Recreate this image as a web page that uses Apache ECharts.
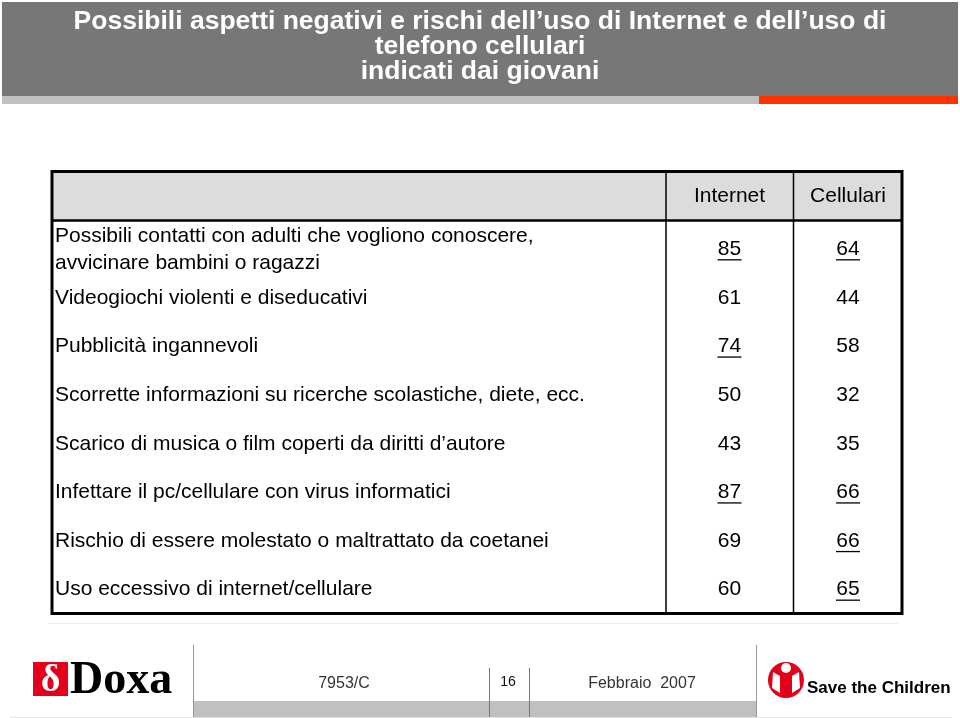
<!DOCTYPE html>
<html>
<head>
<meta charset="utf-8">
<script src="https://cdn.jsdelivr.net/npm/echarts@6/dist/echarts.min.js"></script>
<style>
html,body{margin:0;padding:0;background:#fff;}
#chart{width:960px;height:718px;}
</style>
</head>
<body>
<div id="chart"></div>
<script>
// ---- data ----
const titleLines = [
  "Possibili aspetti negativi e rischi dell\u2019uso di Internet e dell\u2019uso di",
  "telefono cellulari",
  "indicati dai giovani"
];
const rowLabels = [
  "Possibili contatti con adulti che vogliono conoscere,\navvicinare bambini o ragazzi",
  "Videogiochi violenti e diseducativi",
  "Pubblicit\u00e0 ingannevoli",
  "Scorrette informazioni su ricerche scolastiche, diete, ecc.",
  "Scarico di musica o film coperti da diritti d\u2019autore",
  "Infettare il pc/cellulare con virus informatici",
  "Rischio di essere molestato o maltrattato da coetanei",
  "Uso eccessivo di internet/cellulare"
];
const columns = ["Internet", "Cellulari"];
const internetValues = [85, 61, 74, 50, 43, 87, 69, 60];
const cellulariValues = [64, 44, 58, 32, 35, 66, 66, 65];
const internetUnderlined = [1, 0, 1, 0, 0, 1, 0, 0];
const cellulariUnderlined = [1, 0, 0, 0, 0, 1, 1, 1];
const footerCode = "7953/C";
const footerPage = "16";
const footerDate = "Febbraio  2007";

// ---- chart ----
const FONT = "'Liberation Sans', Arial, Helvetica, sans-serif";
const FS = 21;
const chart = echarts.init(document.getElementById('chart'), null, {renderer: 'canvas'});

function cellRenderer(params, api) {
  const p = api.coord([api.value(0), api.value(1)]);
  const children = [{
    type: 'text',
    style: {
      text: String(api.value(2)), x: p[0], y: p[1],
      align: 'center', verticalAlign: 'middle',
      fontSize: FS, fontFamily: FONT, fill: '#000'
    }
  }];
  if (api.value(3)) {
    children.push({
      type: 'line',
      shape: {x1: p[0] - 12, y1: p[1] + 10.5, x2: p[0] + 12, y2: p[1] + 10.5},
      style: {stroke: '#000', lineWidth: 1.3}
    });
  }
  return {type: 'group', children: children};
}

const TOP = 225, H = 389;
const hiddenY = (gi) => ({
  type: 'category', gridIndex: gi, data: rowLabels, inverse: true, show: false
});
const titleStyle = (t) => ({text: t, align: 'center', verticalAlign: 'middle',
  fill: '#fff', fontSize: 26.5, fontWeight: 'bold', fontFamily: FONT});

const option = {
  backgroundColor: '#fff',
  animation: false,
  grid: [
    {left: 52, width: 614, top: TOP, height: H},
    {left: 666, width: 127, top: TOP, height: H},
    {left: 793, width: 110, top: TOP, height: H}
  ],
  xAxis: [
    {type: 'category', gridIndex: 0, data: [''], show: false},
    {type: 'category', gridIndex: 1, data: [columns[0]], position: 'top',
     axisLine: {show: false}, axisTick: {show: false}, splitLine: {show: false},
     axisLabel: {fontSize: FS, fontFamily: FONT, color: '#000', margin: 18}},
    {type: 'category', gridIndex: 2, data: [columns[1]], position: 'top',
     axisLine: {show: false}, axisTick: {show: false}, splitLine: {show: false},
     axisLabel: {fontSize: FS, fontFamily: FONT, color: '#000', margin: 18}}
  ],
  yAxis: [
    {type: 'category', gridIndex: 0, data: rowLabels, inverse: true,
     axisLine: {show: false}, axisTick: {show: false}, splitLine: {show: false},
     axisLabel: {inside: true, margin: 3, align: 'left', fontSize: FS,
                 fontFamily: FONT, color: '#000', lineHeight: 27}},
    hiddenY(1),
    hiddenY(2)
  ],
  series: [
    {type: 'custom', xAxisIndex: 1, yAxisIndex: 1, renderItem: cellRenderer,
     encode: {x: 0, y: 1},
     data: internetValues.map((v, i) => [0, i, v, internetUnderlined[i]])},
    {type: 'custom', xAxisIndex: 2, yAxisIndex: 2, renderItem: cellRenderer,
     encode: {x: 0, y: 1},
     data: cellulariValues.map((v, i) => [0, i, v, cellulariUnderlined[i]])}
  ],
  graphic: [
    // header band
    {type: 'rect', shape: {x: 2, y: 2, width: 956, height: 94}, style: {fill: '#777777'}, z: -5},
    {type: 'rect', shape: {x: 2, y: 96, width: 757, height: 8}, style: {fill: '#c0c0c0'}, z: -5},
    {type: 'rect', shape: {x: 759, y: 96, width: 199, height: 8}, style: {fill: '#ff3300'}, z: -5},
    {type: 'text', x: 480, y: 22, style: titleStyle(titleLines[0])},
    {type: 'text', x: 480, y: 47, style: titleStyle(titleLines[1])},
    {type: 'text', x: 480, y: 72, style: titleStyle(titleLines[2])},
    // table frame
    {type: 'rect', shape: {x: 52, y: 171, width: 851, height: 49}, style: {fill: '#dcdcdc'}, z: -5},
    {type: 'line', shape: {x1: 666, y1: 171, x2: 666, y2: 614}, style: {stroke: '#000', lineWidth: 1.5}, z: 50},
    {type: 'line', shape: {x1: 793.5, y1: 171, x2: 793.5, y2: 614}, style: {stroke: '#000', lineWidth: 1.5}, z: 50},
    {type: 'line', shape: {x1: 52, y1: 220.5, x2: 903, y2: 220.5}, style: {stroke: '#000', lineWidth: 2.5}, z: 50},
    {type: 'rect', shape: {x: 52, y: 171.5, width: 850, height: 442}, style: {fill: null, stroke: '#000', lineWidth: 3}, z: 50},
    // footer
    {type: 'line', shape: {x1: 49, y1: 623.5, x2: 898, y2: 623.5}, style: {stroke: '#ececec', lineWidth: 1}},
    {type: 'rect', shape: {x: 194, y: 701, width: 562, height: 16}, style: {fill: '#c0c0c0'}},
    {type: 'line', shape: {x1: 193.5, y1: 645, x2: 193.5, y2: 718}, style: {stroke: '#999', lineWidth: 1}},
    {type: 'line', shape: {x1: 756.5, y1: 645, x2: 756.5, y2: 718}, style: {stroke: '#999', lineWidth: 1}},
    {type: 'line', shape: {x1: 489.5, y1: 668, x2: 489.5, y2: 718}, style: {stroke: '#777', lineWidth: 1}},
    {type: 'line', shape: {x1: 529.5, y1: 668, x2: 529.5, y2: 718}, style: {stroke: '#777', lineWidth: 1}},
    {type: 'line', shape: {x1: 10, y1: 717.5, x2: 952, y2: 717.5}, style: {stroke: '#e4e4e4', lineWidth: 1}},
    {type: 'text', x: 344, y: 684, style: {text: footerCode, align: 'center', verticalAlign: 'middle',
      fill: '#333', fontSize: 16, fontFamily: FONT}},
    {type: 'text', x: 508, y: 682, style: {text: footerPage, align: 'center', verticalAlign: 'middle',
      fill: '#111', fontSize: 14, fontFamily: FONT}},
    {type: 'text', x: 642, y: 684, style: {text: footerDate, align: 'center', verticalAlign: 'middle',
      fill: '#333', fontSize: 16, fontFamily: FONT}},
    // Doxa logo
    {type: 'rect', shape: {x: 33, y: 662, width: 35, height: 34}, style: {fill: '#e2001a'}},
    {type: 'text', x: 50.5, y: 681, style: {text: '\u03b4', align: 'center', verticalAlign: 'middle',
      fill: '#fff', fontSize: 38, fontWeight: 'bold', fontFamily: "'Liberation Serif', serif"}},
    {type: 'text', x: 70, y: 704, scaleX: 1.0, style: {text: 'Doxa', align: 'left', verticalAlign: 'bottom',
      fill: '#000', fontSize: 46, fontWeight: 'bold', fontFamily: "'Liberation Serif', 'DejaVu Serif', serif"}},
    // Save the Children logo
    {type: 'circle', shape: {cx: 786, cy: 680, r: 18}, style: {fill: '#e2001a'}},
    {type: 'circle', shape: {cx: 786, cy: 668, r: 5}, style: {fill: '#fff'}},
    {type: 'polygon', shape: {points: [[773, 672], [780, 676], [780, 693], [772, 688]]}, style: {fill: '#fff'}},
    {type: 'polygon', shape: {points: [[799, 672], [792, 676], [792, 693], [800, 688]]}, style: {fill: '#fff'}},
    {type: 'text', x: 807, y: 688, style: {text: 'Save the Children', align: 'left', verticalAlign: 'middle',
      fill: '#000', fontSize: 17, fontWeight: 'bold', fontFamily: FONT}}
  ]
};
chart.setOption(option);
</script>
</body>
</html>
